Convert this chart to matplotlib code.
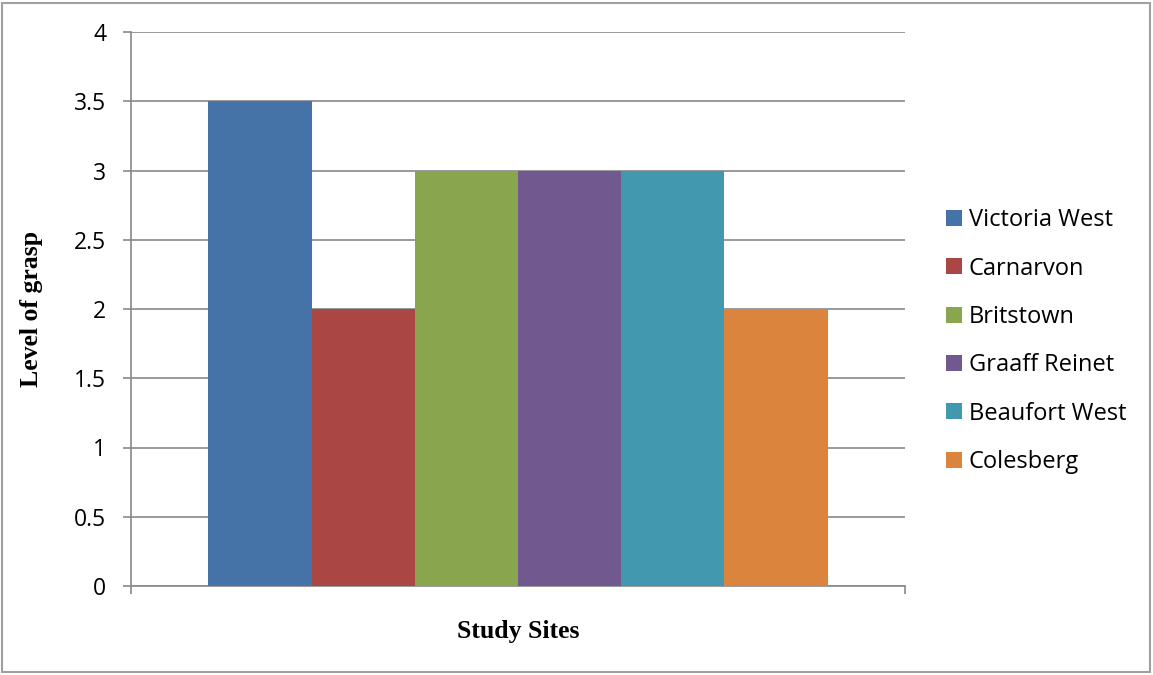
import matplotlib.pyplot as plt
from matplotlib.patches import Rectangle

sites = ['Victoria West', 'Carnarvon', 'Britstown', 'Graaff Reinet', 'Beaufort West', 'Colesberg']
grasp = [3.5, 2, 3, 3, 3, 2]
colors = ['#4572A7', '#AA4643', '#89A54E', '#71588F', '#4198AF', '#DB843D']
yticks = [0, 0.5, 1, 1.5, 2, 2.5, 3, 3.5, 4]

fig = plt.figure(figsize=(11.53, 6.75), dpi=100)
ax = fig.add_axes([131 / 1153, 1 - 586 / 675, 774 / 1153, 554 / 675])

grid_c = '#898989'
width = 0.8 / len(sites)
for i, (s, v) in enumerate(zip(sites, grasp)):
    ax.bar(0.1 + width * (i + 0.5), v, width=width, color=colors[i], label=s, zorder=3)

ax.set_xlim(0, 1)
ax.set_ylim(0, 4)
ax.set_yticks(yticks)
ax.set_yticklabels([f'{t:g}' for t in yticks], fontsize=16.5, family='Open Sans')
ax.set_xticks([0, 1])
ax.set_xticklabels([])
ax.grid(axis='y', color=grid_c, linewidth=1.2, zorder=0)
ax.tick_params(axis='y', length=6, width=1.2, color=grid_c, pad=12)
ax.tick_params(axis='x', length=6, width=1.2, color=grid_c)
for side in ['top', 'right']:
    ax.spines[side].set_visible(False)
for side in ['left', 'bottom']:
    ax.spines[side].set_color(grid_c)
    ax.spines[side].set_linewidth(1.2)

ax.set_ylabel('Level of grasp', fontsize=18.5, fontweight='bold', family='Liberation Serif', labelpad=22)
ax.set_xlabel('Study Sites', fontsize=18.5, fontweight='bold', family='Liberation Serif', labelpad=15)

ax.legend(loc='center left', bbox_to_anchor=(1.026, 0.442), frameon=False,
          prop={'family': 'Open Sans', 'size': 17}, handlelength=0.65, handleheight=0.65,
          handletextpad=0.3, labelspacing=1.03)

# outer frame around the whole chart
fig.patches.append(Rectangle((2 / 1153, 3 / 675), 1148 / 1153, 669 / 675, transform=fig.transFigure,
                             fill=False, edgecolor='#a0a0a0', linewidth=1.5))

fig.savefig('out.png', dpi=100)
